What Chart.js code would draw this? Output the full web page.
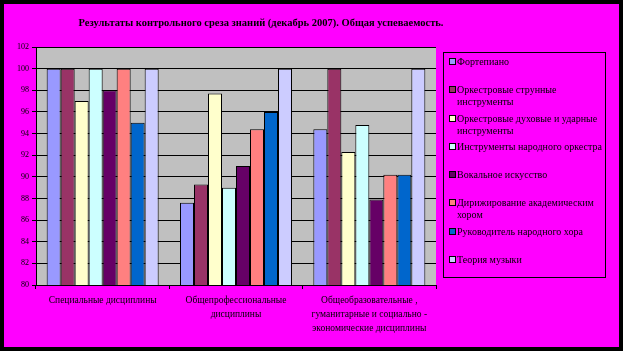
<!DOCTYPE html>
<html>
<head>
<meta charset="utf-8">
<script src="https://cdn.jsdelivr.net/npm/chart.js@4/dist/chart.umd.min.js"></script>
<style>
  html, body { margin: 0; padding: 0; background: #000; }
  #wrap { position: relative; width: 623px; height: 351px; }
  #legend {
    position: absolute; left: 443px; top: 52px; width: 163px; height: 226px;
    border: 1px solid #000; box-sizing: border-box; padding-top: 3px;
    font-family: "Liberation Serif", "Times New Roman", serif; font-size: 10px; color: #000;
  }
  .item { position: relative; height: 28.3px; padding-left: 13px; line-height: 12px; }
  .item i { position: absolute; left: 5px; top: 2px; width: 5px; height: 5px; border: 1px solid #000; }
</style>
</head>
<body>
<div id="wrap">
  <canvas id="c" width="623" height="351"></canvas>
  <div id="legend"></div>
</div>
<script>
// Категории (подписи оси X)
const categories = [
    'Специальные дисциплины',
    ['Общепрофессиональные', 'дисциплины'],
    ['Общеобразовательные ,', 'гуманитарные и социально -', 'экономические дисциплины']
];

// Специальности (серии)
const seriesNames = [
    'Фортепиано',
    'Оркестровые струнные инструменты',
    'Оркестровые духовые и ударные инструменты',
    'Инструменты народного оркестра',
    'Вокальное искусство',
    'Дирижирование академическим хором',
    'Руководитель народного хора',
    'Теория музыки'
];
// как переносить строки в легенде
const legendLines = [
    ['Фортепиано'],
    ['Оркестровые струнные', 'инструменты'],
    ['Оркестровые духовые и ударные', 'инструменты'],
    ['Инструменты народного оркестра'],
    ['Вокальное искусство'],
    ['Дирижирование академическим', 'хором'],
    ['Руководитель народного хора'],
    ['Теория музыки']
];

// Успеваемость, % (по категориям)
const fortepiano  = [100, 87.6, 94.4];
const strunnye    = [100, 89.3, 100];
const duhovye     = [97,  97.7, 92.3];
const narodnye    = [100, 89,   94.8];
const vokal       = [98,  91,   87.9];
const dirizh      = [100, 94.4, 90.2];
const rukovod     = [95,  96,   90.2];
const teoriya     = [100, 100,  100];
const seriesValues = [fortepiano, strunnye, duhovye, narodnye, vokal, dirizh, rukovod, teoriya];

const yTicks = [80, 82, 84, 86, 88, 90, 92, 94, 96, 98, 100, 102];

const colors = ['#9999FF', '#993366', '#FFFFCC', '#CCFFFF', '#660066', '#FF8080', '#0066CC', '#CCCCFF'];

const title = 'Результаты контрольного среза знаний (декабрь 2007). Общая успеваемость.';

// Фон: черная рамка, розовое поле, серая область построения
const bgPlugin = {
    id: 'bg',
    beforeDraw(chart) {
        const ctx = chart.ctx, a = chart.chartArea;
        ctx.save();
        ctx.fillStyle = '#000';
        ctx.fillRect(0, 0, chart.width, chart.height);
        ctx.fillStyle = '#FF00FF';
        ctx.fillRect(4, 4, chart.width - 8, chart.height - 8);
        ctx.fillStyle = '#C0C0C0';
        ctx.fillRect(a.left, a.top, a.right - a.left, a.bottom - a.top);
        ctx.fillStyle = '#000';
        ctx.font = 'bold 10.5px "Liberation Serif", serif';
        ctx.textAlign = 'center';
        ctx.textBaseline = 'middle';
        ctx.fillText(title, 261, 23);
        ctx.restore();
    }
};

new Chart(document.getElementById('c').getContext('2d'), {
    type: 'bar',
    data: {
        labels: categories,
        datasets: seriesNames.map((name, i) => ({
            label: name,
            data: seriesValues[i],
            backgroundColor: colors[i],
            borderColor: '#000',
            borderWidth: 1,
            borderSkipped: 'bottom',
            categoryPercentage: 0.84,
            barPercentage: 1
        }))
    },
    options: {
        responsive: false,
        animation: false,
        layout: { padding: { left: 0, top: 47, right: 187, bottom: 0 } },
        plugins: {
            legend: { display: false },
            tooltip: { enabled: false }
        },
        scales: {
            x: {
                grid: { offset: true, drawOnChartArea: false, drawTicks: true, tickLength: 4, color: '#000' },
                border: { color: '#000', width: 1 },
                ticks: {
                    color: '#000', padding: 5, maxRotation: 0,
                    font: { family: '"Liberation Serif", serif', size: 9.5, lineHeight: 1.45 }
                },
                afterFit(s) { s.height = 66; }
            },
            y: {
                min: 80, max: 102,
                afterBuildTicks(s) { s.ticks = yTicks.map(v => ({ value: v })); },
                grid: { color: '#000', tickLength: 4, drawTicks: true },
                border: { color: '#000', width: 1 },
                ticks: {
                    color: '#000', padding: 3,
                    font: { family: '"Liberation Serif", serif', size: 8 }
                },
                afterFit(s) { s.width = 36; }
            }
        }
    },
    plugins: [bgPlugin]
});

// Легенда
const legend = document.getElementById('legend');
legendLines.forEach((lines, i) => {
    const d = document.createElement('div');
    d.className = 'item';
    d.innerHTML = '<i style="background:' + colors[i] + '"></i>' + lines.join('<br>');
    legend.appendChild(d);
});
</script>
</body>
</html>
